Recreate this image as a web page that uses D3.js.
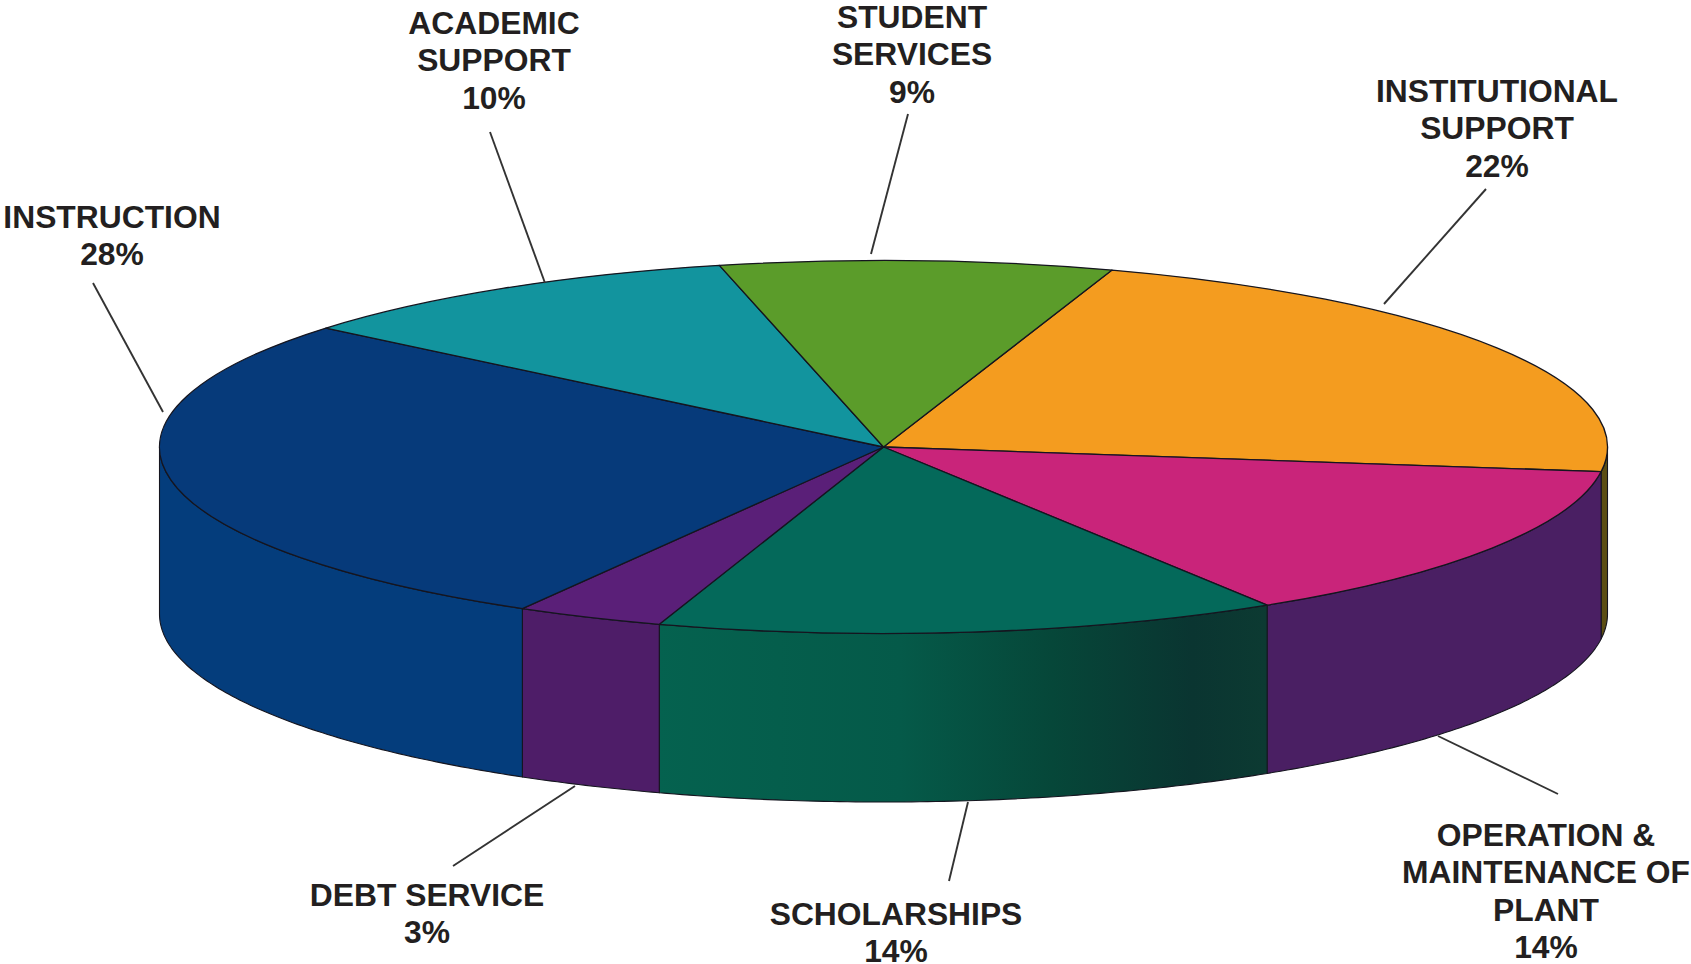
<!DOCTYPE html>
<html><head><meta charset="utf-8">
<style>html,body{margin:0;padding:0;background:#fff;overflow:hidden}svg{display:block}text{font-family:"Liberation Sans",Arial,sans-serif;font-weight:700;fill:#231f20;font-size:31.8px;text-anchor:middle}</style>
<script src="https://cdn.jsdelivr.net/npm/d3@7/dist/d3.min.js"></script>
</head><body><svg id="c" width="1691" height="964"></svg>
<script>
// Data, clockwise from the top of the pie
const categories = ["INSTITUTIONAL SUPPORT","OPERATION & MAINTENANCE OF PLANT","SCHOLARSHIPS","DEBT SERVICE","INSTRUCTION","ACADEMIC SUPPORT","STUDENT SERVICES"];
// Shares (they round to the printed labels)
const shares = [22,14,13.9,3.3,27.7,10.35,8.75];
const percentLabels = ["22%","14%","14%","3%","28%","10%","9%"];
// Styles
const topColors = ["#f49c1f","#c9247a","#04695a","#5a1f78","#063a7a","#12949e","#5b9c2a"];
const wallColors = ["#5c4e14","#4a1f63","url(#schol)","#4e1d68","#043d7c",null,null];
// Label layout
const labelLines = [["INSTITUTIONAL","SUPPORT"],["OPERATION &","MAINTENANCE OF","PLANT"],["SCHOLARSHIPS"],["DEBT SERVICE"],["INSTRUCTION"],["ACADEMIC","SUPPORT"],["STUDENT","SERVICES"]];
const labelAnchors = [[1497,102],[1546,846],[896,925],[427,906],[112,228],[494,34],[912,28]];
const leaders = [[[1486,189],[1384,304]],[[1558,794],[1438,736]],[[949,881],[968,802]],[[453,866],[575,786]],[[93,283],[163,412]],[[490,132],[545,283]],[[908,114],[871,254]]];
const lineStep = 37.4;

const W=1691,H=964,cx=883.5,cy=447,rx=724,ry=186.5,depth=167,ryBottom=188;
const rad=d=>d*Math.PI/180;
const svg=d3.select("#c");
const defs=svg.append("defs");
const grad=defs.append("linearGradient").attr("id","schol").attr("gradientUnits","userSpaceOnUse").attr("x1",656).attr("x2",1265).attr("y1",0).attr("y2",0);
[[0,"#05624f"],[.4,"#055a49"],[.65,"#064739"],[.88,"#0a3531"],[1,"#0c3a32"]].forEach(s=>grad.append("stop").attr("offset",s[0]).attr("stop-color",s[1]));

const slices=d3.pie().sort(null).startAngle(rad(18.4)).endAngle(rad(378.4)).value(d=>d)(shares);
const arc=d3.arc().innerRadius(0).outerRadius(rx);
const X=a=>cx+rx*Math.sin(a), Y=a=>cy-ry*Math.cos(a);
const area=d3.area().x(X).y0(Y).y1(a=>cy+depth-ryBottom*Math.cos(a));

// Front walls: only the part of each slice between 3 and 9 o'clock shows
const norm=(a0,a1)=>{const out=[];[0,2*Math.PI].forEach(k=>{const s=Math.max(a0-k,Math.PI/2),e=Math.min(a1-k,3*Math.PI/2);if(e>s)out.push([s,e]);});return out;};
slices.forEach((d,i)=>{
  if(!wallColors[i])return;
  norm(d.startAngle,d.endAngle).forEach(([s,e])=>{
    const n=Math.max(2,Math.ceil((e-s)*90));
    const as=d3.range(n+1).map(k=>s+(e-s)*k/n);
    svg.append("path").attr("d",area(as)).attr("fill",wallColors[i]).attr("stroke","#15151f").attr("stroke-width",1.1).attr("stroke-linejoin","round");
  });
});
// Top face
svg.append("g").attr("transform",`translate(${cx},${cy}) scale(1,${ry/rx})`).selectAll("path").data(slices).join("path")
  .attr("d",arc).attr("fill",(d,i)=>topColors[i]).attr("stroke","#15151f").attr("stroke-width",1.3).attr("stroke-linejoin","round").attr("vector-effect","non-scaling-stroke");

// Leaders
svg.append("g").selectAll("line").data(leaders).join("line")
  .attr("x1",d=>d[0][0]).attr("y1",d=>d[0][1]).attr("x2",d=>d[1][0]).attr("y2",d=>d[1][1])
  .attr("stroke","#333").attr("stroke-width",1.9);
// Labels
labelLines.forEach((lines,i)=>{
  const t=svg.append("text");
  lines.concat(percentLabels[i]).forEach((s,k)=>t.append("tspan").attr("x",labelAnchors[i][0]).attr("y",labelAnchors[i][1]+k*lineStep).text(s));
});
</script></body></html>
